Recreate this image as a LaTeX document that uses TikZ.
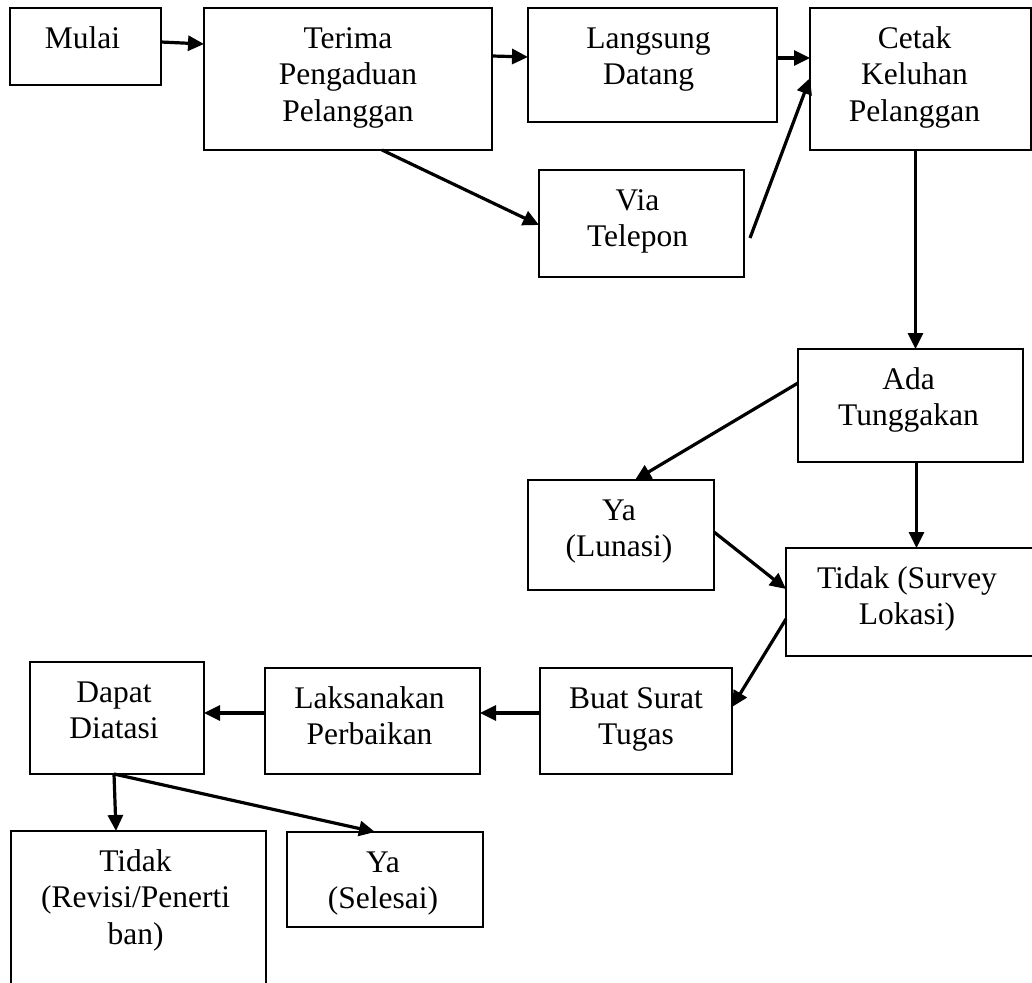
\documentclass[tikz,border=0pt]{standalone}
\usepackage{fontspec}
\setmainfont{Liberation Serif}
\usetikzlibrary{arrows.meta,calc}
\begin{document}
\begin{tikzpicture}[x=1pt,y=-1pt,
  box/.style={draw,line width=2pt,inner sep=0pt,outer sep=0pt,rectangle},
  txt/.style={inner sep=0pt,align=center,anchor=north,font=\fontsize{31.5}{36.7}\selectfont},
  arr/.style={line width=3.2pt,-{Triangle[length=16pt,width=15pt]}}]
\useasboundingbox (0,0) rectangle (1032,982);
\clip (0,0) rectangle (1032,982);

% boxes
\node[box,minimum width=151pt,minimum height=77pt]  (mulai)    at (85.5,46.5) {};
\node[box,minimum width=288pt,minimum height=142pt] (terima)   at (348,79) {};
\node[box,minimum width=249pt,minimum height=114pt] (langsung) at (652.5,65) {};
\node[box,minimum width=221pt,minimum height=142pt] (cetak)    at (920.5,79) {};
\node[box,minimum width=205pt,minimum height=107pt] (via)      at (641.5,223.5) {};
\node[box,minimum width=225pt,minimum height=113pt] (ada)      at (910.5,405.5) {};
\node[box,minimum width=186pt,minimum height=110pt] (lunasi)   at (621,535) {};
\node[box,minimum width=252pt,minimum height=108pt] (survey)   at (912,602) {};
\node[box,minimum width=192pt,minimum height=106pt] (buat)     at (636,721) {};
\node[box,minimum width=215pt,minimum height=106pt] (laks)     at (372.5,721) {};
\node[box,minimum width=174pt,minimum height=112pt] (dapat)    at (117,718) {};
\node[box,minimum width=255pt,minimum height=169pt] (revisi)   at (138.5,915.5) {};
\node[box,minimum width=196pt,minimum height=95pt]  (selesai)  at (385,879.5) {};

% texts
\node[txt] (mulai-t)    at ($(mulai.north)+(-3,14.3)$)    {\strut Mulai};
\node[txt] (terima-t)   at ($(terima.north)+(0,14.3)$)    {\strut Terima\\Pengaduan\\Pelanggan};
\node[txt] (langsung-t) at ($(langsung.north)+(-4,14.3)$) {\strut Langsung\\Datang};
\node[txt] (cetak-t)    at ($(cetak.north)+(-6,14.3)$)    {\strut Cetak\\Keluhan\\Pelanggan};
\node[txt] (via-t)      at ($(via.north)+(-4,14.3)$)      {\strut Via\\Telepon};
\node[txt] (ada-t)      at ($(ada.north)+(-2,14.3)$)      {\strut Ada\\Tunggakan};
\node[txt] (lunasi-t)   at ($(lunasi.north)+(-2,14.3)$)   {\strut Ya\\(Lunasi)};
\node[txt] (survey-t)   at ($(survey.north)+(-5,14.3)$)   {\strut Tidak (Survey\\Lokasi)};
\node[txt] (buat-t)     at ($(buat.north)+(0,14.3)$)      {\strut Buat Surat\\Tugas};
\node[txt] (laks-t)     at ($(laks.north)+(-3,14.3)$)     {\strut Laksanakan\\Perbaikan};
\node[txt] (dapat-t)    at ($(dapat.north)+(-3,14.3)$)    {\strut Dapat\\Diatasi};
\node[txt] (revisi-t)   at ($(revisi.north)+(-3,14.3)$)   {\strut Tidak\\(Revisi/Penerti\\ban)};
\node[txt] (selesai-t)  at ($(selesai.north)+(-2,14.3)$)  {\strut Ya\\(Selesai)};

% connectors
\draw[arr] ($(mulai.north east)+(0,34)$) -- ($(terima.north west)+(0,36)$);
\draw[arr] ($(terima.north east)+(0,48)$) -- ($(langsung.north west)+(0,49)$);
\draw[arr] ($(langsung.north east)+(0,50)$) -- ($(cetak.north west)+(0,50)$);
\draw[arr] ($(terima.south)+(34,0)$) -- ($(via.west)+(0,1.5)$);
\coordinate (viaout) at ($(via.north east)+(6,68)$);
\draw[arr] (viaout) -- ($(cetak.north west)+(0,70)$);
\draw[arr] ($(cetak.south)+(-5,0)$) -- ($(ada.north)+(5,0)$);
\draw[arr] ($(ada.west)+(0,-22.5)$) -- ($(lunasi.north)+(14,0)$);
\draw[arr] ($(ada.south)+(6,0)$) -- ($(survey.north)+(4.5,0)$);
\draw[arr] ($(lunasi.east)+(0,-3)$) -- ($(survey.west)+(0,-13)$);
\draw[arr] ($(survey.west)+(0,17)$) -- ($(buat.east)+(0,-14)$);
\draw[arr] ($(buat.west)+(0,-8)$) -- ($(laks.east)+(0,-8)$);
\draw[arr] ($(laks.west)+(0,-8)$) -- ($(dapat.east)+(0,-5)$);
\coordinate (dapatout) at ($(dapat.south)+(-3,0)$);
\draw[arr] (dapatout) -- ($(revisi.north)+(-22.5,0)$);
\draw[arr] (dapatout) -- ($(selesai.north)+(-10,0)$);
\end{tikzpicture}
\end{document}
